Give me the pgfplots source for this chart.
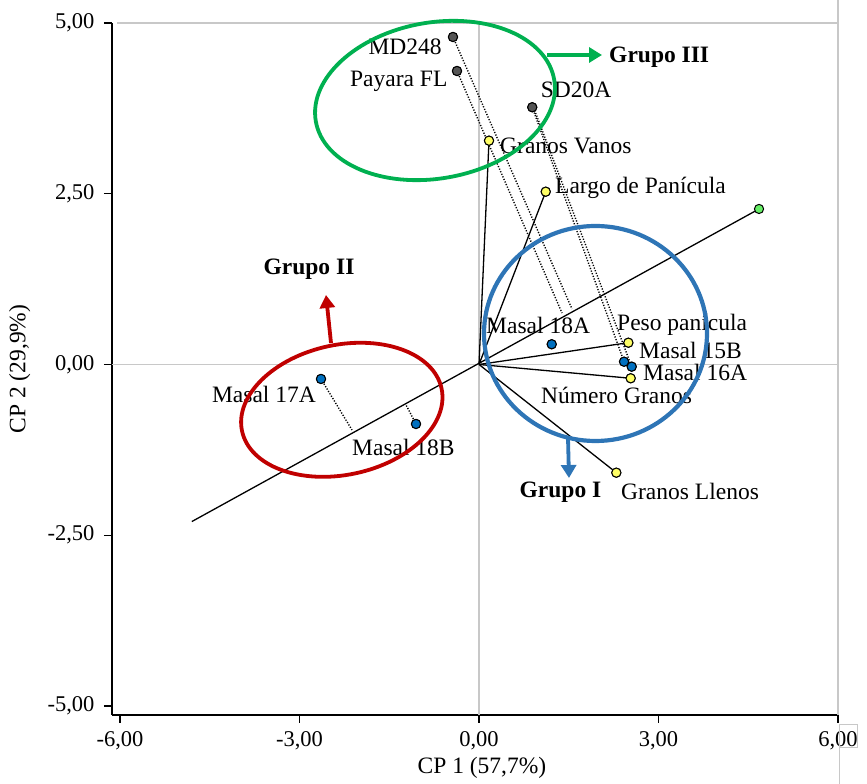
\documentclass[border=0pt]{standalone}
\usepackage{pgfplots}
\pgfplotsset{compat=1.18}
\usepackage{fontspec}
\setmainfont{Liberation Serif}
\usetikzlibrary{arrows.meta}

\definecolor{ptgray}{RGB}{85,85,85}
\definecolor{ptyellow}{RGB}{255,255,102}
\definecolor{ptblue}{RGB}{0,112,192}
\definecolor{ptgreen}{RGB}{102,238,102}
\definecolor{grpgreen}{RGB}{0,176,80}
\definecolor{grpred}{RGB}{192,0,0}
\definecolor{grpblue}{RGB}{46,117,182}
\definecolor{refgray}{RGB}{200,200,200}
\newcommand\lf{\fontsize{23.5bp}{28bp}\selectfont}
\newcommand\tf{\fontsize{22.5bp}{27bp}\selectfont}
\tikzset{proj/.style={black, line width=1.4bp, dash pattern=on 1.2bp off 1.6bp}}

\begin{document}
\begin{tikzpicture}[x=1bp,y=1bp]
\useasboundingbox (-112,-69) rectangle (755,715);
\begin{axis}[
  at={(0,0)}, anchor=south west,
  scale only axis, width=726bp, height=692bp,
  xmin=-6.134, xmax=6, ymin=-5.132, ymax=5,
  axis x line*=bottom, axis y line*=left,
  axis line style={black, line width=1.4bp},
  clip=false,
  xtick={-6,-3,0,3,6},
  xticklabels={{-6,00},{-3,00},{0,00},{3,00},{6,00}},
  ytick={-5,-2.5,0,2.5,5},
  yticklabels={{-5,00},{-2,50},{0,00},{2,50},{5,00}},
  tick align=outside, major tick length=8bp,
  tick style={black, line width=1.3bp},
  tick label style={font=\tf},
  yticklabel style={xshift=-6bp},
  xticklabel style={yshift=-5bp},
  xlabel={CP 1 (57,7\%)}, ylabel={CP 2 (29,9\%)},
  label style={font=\lf},
  xlabel style={at={(axis description cs:0.5096,-0.0766)}, anchor=center},
  ylabel style={at={(axis description cs:-0.1270,0.5)}, anchor=center},
]
% reference lines
\draw[refgray, line width=1.8bp] (axis cs:0,-5.132) -- (axis cs:0,5);
\draw[refgray, line width=1.8bp] (axis cs:-6.134,0) -- (axis cs:6,0);
\draw[refgray, line width=1.8bp] (axis cs:-6.05,5) -- (axis cs:6,5);
\draw[refgray, line width=1.8bp] (axis cs:6,-5.132) -- (axis cs:6,5.337);

% main axis line
\addplot[black, line width=1.3bp] coordinates {(-4.80,-2.30) (4.68,2.277)};
% variable vectors
\addplot[black, line width=1.3bp] coordinates {(0,0) (0.167,3.277)};
\addplot[black, line width=1.3bp] coordinates {(0,0) (1.115,2.53)};
\addplot[black, line width=1.3bp] coordinates {(0,0) (2.496,0.319)};
\addplot[black, line width=1.3bp] coordinates {(0,0) (2.535,-0.202)};
\addplot[black, line width=1.3bp] coordinates {(0,0) (2.295,-1.584)};
% projections (dotted)
\addplot[proj] coordinates {(-0.435,4.795) (1.554,0.813)};
\addplot[proj] coordinates {(-0.368,4.297) (1.387,0.754)};
\addplot[proj] coordinates {(0.89,3.766) (2.424,0.041)};
\addplot[proj] coordinates {(0.93,3.72) (2.552,-0.032)};
\addplot[proj] coordinates {(-2.641,-0.212) (-2.123,-0.959)};
\addplot[proj] coordinates {(-1.053,-0.871) (-1.22,-0.593)};

% points
\addplot[only marks, mark=*, mark size=4.6bp, mark options={draw=black, line width=1bp, fill=ptgray}]
  coordinates {(-0.435,4.795) (-0.368,4.297) (0.89,3.766)};
\addplot[only marks, mark=*, mark size=4.6bp, mark options={draw=black, line width=1bp, fill=ptyellow}]
  coordinates {(0.167,3.277) (1.115,2.53) (2.496,0.319) (2.535,-0.202) (2.295,-1.584)};
\addplot[only marks, mark=*, mark size=4.6bp, mark options={draw=black, line width=1bp, fill=ptblue}]
  coordinates {(1.215,0.296) (2.424,0.041) (2.552,-0.032) (-2.641,-0.212) (-1.053,-0.871)};
\addplot[only marks, mark=*, mark size=4.6bp, mark options={draw=black, line width=1bp, fill=ptgreen}]
  coordinates {(4.68,2.277)};

% labels
\begin{scope}[every node/.style={font=\lf, inner sep=0pt}]
\node[anchor=base east] at (axis cs:-0.62,4.535) {MD248};
\node[anchor=base east] at (axis cs:-0.525,4.066) {Payara FL};
\node[anchor=base west] at (axis cs:1.031,3.905) {SD20A};
\node[anchor=base west] at (axis cs:0.351,3.085) {Granos Vanos};
\node[anchor=base west] at (axis cs:1.27,2.499) {Largo de Panícula};
\node[anchor=base west] at (axis cs:0.117,0.45) {Masal 18A};
\node[anchor=base west] at (axis cs:2.306,0.494) {Peso panícula};
\node[anchor=base west] at (axis cs:2.674,0.088) {Masal 15B};
\node[anchor=base west] at (axis cs:2.741,-0.238) {Masal 16A};
\node[anchor=base west] at (axis cs:1.036,-0.575) {Número Granos};
\node[anchor=base west] at (axis cs:2.373,-1.981) {Granos Llenos};
\node[anchor=base east] at (axis cs:-2.724,-0.561) {Masal 17A};
\node[anchor=base west] at (axis cs:-2.123,-1.337) {Masal 18B};
\node[anchor=base west, font=\lf\bfseries] at (axis cs:2.173,4.417) {Grupo III};
\node[anchor=base, font=\lf\bfseries] at (axis cs:-2.841,1.314) {Grupo II};
\node[anchor=base, font=\lf\bfseries] at (axis cs:1.362,-1.951) {Grupo I};
\end{scope}
\end{axis}

% group ellipses (picture coordinates: 1 unit = 1 px of the reference, origin at axis corner)
\draw[grpgreen, line width=3.8bp, rotate around={10:(323,614.5)}] (323,614.5) ellipse [x radius=121, y radius=78];
\draw[grpred, line width=3.8bp, rotate around={12:(229.8,305.2)}] (229.8,305.2) ellipse [x radius=102, y radius=65];
\draw[grpblue, line width=4.2bp] (483.5,381.5) ellipse [x radius=111.5, y radius=107.5];
% group arrows
\draw[grpgreen, line width=3.8bp, -{Triangle[length=13bp, width=15bp]}] (435,660) -- (490,660);
\draw[grpred, line width=3.8bp, -{Triangle[length=13bp, width=15bp]}] (219,372) -- (214,420);
\draw[grpblue, line width=3.8bp, -{Triangle[length=13bp, width=15bp]}] (456,277) -- (457,237);

% re-draw points over ellipses
\begin{axis}[
  at={(0,0)}, anchor=south west,
  scale only axis, width=726bp, height=692bp,
  xmin=-6.134, xmax=6, ymin=-5.132, ymax=5,
  hide axis, clip=false,
]
\addplot[only marks, mark=*, mark size=4.6bp, mark options={draw=black, line width=1bp, fill=ptgray}]
  coordinates {(-0.435,4.795) (-0.368,4.297) (0.89,3.766)};
\addplot[only marks, mark=*, mark size=4.6bp, mark options={draw=black, line width=1bp, fill=ptyellow}]
  coordinates {(0.167,3.277) (1.115,2.53) (2.496,0.319) (2.535,-0.202) (2.295,-1.584)};
\addplot[only marks, mark=*, mark size=4.6bp, mark options={draw=black, line width=1bp, fill=ptblue}]
  coordinates {(1.215,0.296) (2.424,0.041) (2.552,-0.032) (-2.641,-0.212) (-1.053,-0.871)};
\end{axis}

% small selection artifact near the last tick label
\draw[refgray, line width=0.8bp] (727,-9) rectangle (745,-32);
\draw[refgray, line width=0.8bp] (727,-32) -- (727,-69);
\end{tikzpicture}
\end{document}
